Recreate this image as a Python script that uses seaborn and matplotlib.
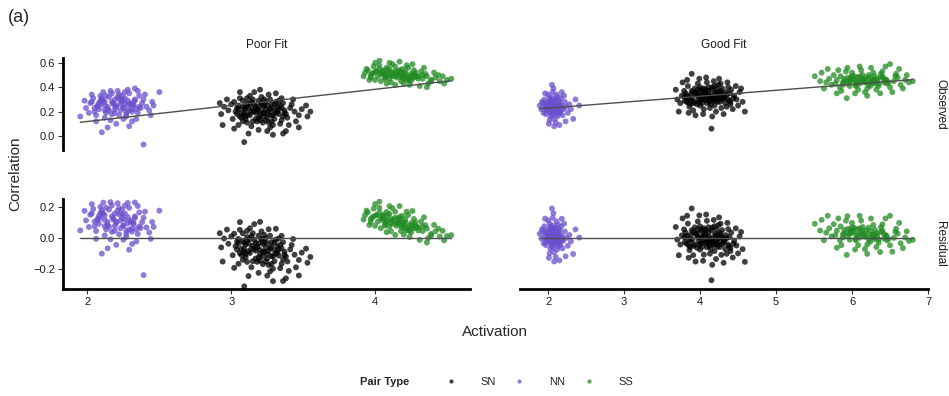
import numpy as np
import pandas as pd
import matplotlib
matplotlib.use("Agg")
import matplotlib.pyplot as plt
from matplotlib.lines import Line2D
import seaborn as sns

# ---------------------------------------------------------------------------
# Observed pair correlations against activation, for two model fits
# ---------------------------------------------------------------------------
fits = ["Poor Fit", "Good Fit"]
pair_types = ["SN", "NN", "SS"]
measures = ["Observed", "Residual"]

# model prediction line (intercept, slope) for each fit
fit_intercept = {"Poor Fit": -0.145, "Good Fit": 0.131}
fit_slope = {"Poor Fit": 0.132, "Good Fit": 0.0488}

# ---- Poor Fit ----
poor_nn_x = [2.20, 2.12, 2.31, 2.05, 2.26, 2.17, 2.38, 2.09, 2.23, 2.29,
             2.14, 2.02, 2.35, 2.19, 2.27, 2.08, 2.41, 2.24, 2.11, 2.33,
             2.16, 2.21, 2.04, 2.30, 2.25, 2.13, 2.36, 2.18, 2.07, 2.43,
             2.22, 1.99, 2.28, 2.15, 2.34, 2.10, 2.26, 2.19, 2.39, 2.06,
             2.24, 2.32, 2.12, 2.01, 2.45, 2.17, 2.27, 2.09, 2.37, 2.22,
             1.95, 2.50, 2.39, 2.10, 2.14, 2.28, 2.33, 2.03, 2.44, 2.20,
             2.31, 2.16, 2.06, 2.40, 2.25, 1.98, 2.35, 2.12, 2.29, 2.46,
             2.18, 2.25, 2.11, 2.30, 2.07, 2.21, 2.15, 2.28, 2.03, 2.34,
             2.19, 2.24, 2.12, 2.31, 2.09, 2.26, 2.14, 2.22, 2.36, 2.10,
             2.17, 2.29, 2.05, 2.23, 2.33, 2.13, 2.20, 2.27, 2.08, 2.32]
poor_nn_obs = [0.25, 0.28, 0.22, 0.20, 0.31, 0.18, 0.27, 0.33, 0.21, 0.35,
               0.24, 0.27, 0.19, 0.30, 0.16, 0.22, 0.24, 0.28, 0.36, 0.30,
               0.13, 0.37, 0.31, 0.26, 0.23, 0.19, 0.33, 0.27, 0.25, 0.21,
               0.17, 0.23, 0.29, 0.32, 0.14, 0.29, 0.36, 0.22, 0.30, 0.17,
               0.33, 0.25, 0.21, 0.19, 0.28, 0.35, 0.20, 0.26, 0.23, 0.30,
               0.16, 0.36, -0.07, 0.03, 0.07, 0.38, 0.39, 0.34, 0.17, 0.10,
               0.12, 0.37, 0.12, 0.34, 0.14, 0.29, 0.37, 0.15, 0.08, 0.25,
               0.26, 0.23, 0.29, 0.27, 0.24, 0.32, 0.21, 0.25, 0.28, 0.22,
               0.19, 0.30, 0.25, 0.20, 0.29, 0.27, 0.22, 0.34, 0.24, 0.31,
               0.28, 0.21, 0.23, 0.26, 0.29, 0.33, 0.24, 0.18, 0.27, 0.26]

poor_sn_x = [3.20, 3.12, 3.28, 3.05, 3.33, 3.17, 3.24, 3.09, 3.38, 3.15,
             3.22, 2.98, 3.30, 3.19, 3.07, 3.26, 3.41, 3.13, 3.35, 3.02,
             3.21, 3.10, 3.29, 3.16, 3.44, 3.04, 3.25, 3.18, 3.36, 3.08,
             3.23, 3.31, 3.14, 2.95, 3.27, 3.11, 3.39, 3.20, 3.06, 3.32,
             3.19, 3.47, 3.01, 3.24, 3.13, 3.34, 3.09, 3.28, 3.17, 3.42,
             2.93, 3.22, 3.37, 3.05, 3.15, 3.30, 3.26, 3.10, 3.21, 3.45,
             3.00, 3.33, 3.18, 3.08, 3.27, 3.14, 3.40, 3.23, 2.97, 3.35,
             3.09, 3.20, 3.53, 3.52, 2.94, 3.29, 3.47, 3.12, 3.38, 3.02,
             3.49, 3.16, 2.92, 3.31, 3.25, 3.43, 3.06, 3.55, 3.11, 3.36,
             3.18, 3.25, 3.11, 3.32, 3.06, 3.21, 3.15, 3.28, 3.03, 3.36,
             3.19, 3.24, 3.12, 3.30, 3.08, 3.26, 3.14, 3.22, 3.34, 3.10,
             3.17, 3.29, 3.05, 3.23, 3.37, 3.13, 3.20, 3.27, 3.09, 3.31,
             3.16, 3.25, 3.04, 3.33, 3.19, 3.11, 3.28, 3.22, 3.07, 3.35]
poor_sn_obs = [0.20, 0.23, 0.17, 0.25, 0.22, 0.14, 0.28, 0.19, 0.18, 0.30,
               0.11, 0.21, 0.26, 0.24, 0.15, 0.20, 0.23, 0.17, 0.13, 0.28,
               0.32, 0.22, 0.09, 0.26, 0.20, 0.18, 0.15, 0.21, 0.27, 0.12,
               0.25, 0.19, 0.08, 0.24, 0.30, 0.27, 0.15, 0.17, 0.31, 0.24,
               0.05, 0.17, 0.14, 0.22, 0.33, 0.10, 0.23, 0.26, 0.19, 0.26,
               0.18, 0.16, 0.21, 0.09, 0.22, 0.14, 0.34, 0.16, 0.27, 0.12,
               0.26, 0.29, 0.12, 0.29, 0.07, 0.20, 0.09, 0.19, 0.30, 0.31,
               -0.05, 0.38, 0.16, 0.25, 0.09, 0.01, 0.07, 0.02, 0.04, 0.06,
               0.22, 0.36, 0.27, 0.35, 0.04, 0.30, 0.36, 0.20, 0.11, 0.02,
               0.22, 0.18, 0.25, 0.20, 0.16, 0.27, 0.12, 0.23, 0.20, 0.16,
               0.29, 0.13, 0.18, 0.21, 0.24, 0.11, 0.28, 0.19, 0.25, 0.14,
               0.24, 0.17, 0.22, 0.30, 0.19, 0.26, 0.13, 0.22, 0.17, 0.28,
               0.20, 0.25, 0.23, 0.18, 0.15, 0.31, 0.12, 0.24, 0.19, 0.23]

poor_ss_x = [4.15, 4.05, 4.22, 3.98, 4.28, 4.10, 4.19, 4.02, 4.33, 4.12,
             4.25, 3.95, 4.08, 4.30, 4.17, 4.00, 4.21, 4.36, 4.06, 4.14,
             3.93, 4.26, 4.11, 4.03, 4.32, 4.18, 4.09, 4.39, 3.97, 4.23,
             4.13, 4.04, 4.27, 4.16, 3.99, 4.35, 4.07, 4.20, 4.42, 4.01,
             4.24, 4.12, 3.92, 4.29, 4.18, 4.45, 4.06, 4.37, 4.22, 3.96,
             4.03, 4.39, 4.53, 4.48, 4.31, 4.14, 4.44, 4.10, 3.94, 4.26,
             4.41, 4.34, 4.20, 4.08, 4.50, 4.00, 4.17, 4.47, 4.36, 4.24,
             4.12, 4.19, 4.05, 4.26, 4.01, 4.16, 4.09, 4.23, 3.97, 4.30,
             4.14, 4.21, 4.07, 4.28, 4.03, 4.18, 4.11, 4.25, 4.33, 4.06,
             4.15, 4.22, 3.99, 4.10, 4.27, 4.04, 4.17, 4.24, 4.08, 4.20]
poor_ss_obs = [0.50, 0.53, 0.48, 0.51, 0.52, 0.47, 0.55, 0.49, 0.50, 0.52,
               0.45, 0.54, 0.56, 0.47, 0.51, 0.46, 0.53, 0.49, 0.50, 0.57,
               0.52, 0.50, 0.44, 0.58, 0.53, 0.48, 0.51, 0.46, 0.48, 0.56,
               0.49, 0.45, 0.54, 0.53, 0.57, 0.51, 0.47, 0.50, 0.48, 0.53,
               0.42, 0.59, 0.49, 0.49, 0.45, 0.45, 0.54, 0.43, 0.58, 0.46,
               0.62, 0.45, 0.47, 0.43, 0.41, 0.42, 0.50, 0.60, 0.55, 0.59,
               0.52, 0.56, 0.43, 0.43, 0.46, 0.60, 0.61, 0.49, 0.40, 0.46,
               0.51, 0.49, 0.52, 0.48, 0.53, 0.50, 0.54, 0.47, 0.50, 0.49,
               0.53, 0.51, 0.48, 0.50, 0.55, 0.52, 0.49, 0.51, 0.47, 0.52,
               0.48, 0.46, 0.52, 0.55, 0.48, 0.51, 0.54, 0.49, 0.50, 0.47]

# ---- Good Fit ----
good_nn_x = [2.07, 2.01, 2.12, 1.96, 2.15, 2.04, 2.10, 1.99, 2.18, 2.06,
             2.02, 2.13, 1.93, 2.09, 2.20, 2.05, 1.97, 2.11, 2.16, 2.03,
             2.08, 1.95, 2.14, 2.00, 2.22, 2.06, 2.12, 1.98, 2.17, 2.04,
             2.09, 1.91, 2.19, 2.02, 2.13, 2.07, 2.00, 2.24, 1.94, 2.10,
             2.05, 2.28, 2.36, 2.33, 2.23, 2.15, 2.01, 2.08, 1.89, 2.26,
             2.18, 1.96, 2.11, 2.03, 2.21, 1.92, 2.14, 2.06, 2.30, 2.41,
             2.06, 2.10, 2.01, 2.14, 1.98, 2.08, 2.04, 2.12, 1.96, 2.17,
             2.05, 2.09, 2.02, 2.15, 2.00, 2.11, 2.07, 2.13, 1.99, 2.06,
             2.03, 2.16, 2.09, 1.97, 2.12, 2.05, 2.19, 2.01, 2.08, 2.14]
good_nn_obs = [0.23, 0.26, 0.21, 0.24, 0.28, 0.19, 0.30, 0.22, 0.25, 0.17,
               0.32, 0.24, 0.27, 0.20, 0.22, 0.27, 0.18, 0.34, 0.19, 0.24,
               0.14, 0.30, 0.26, 0.21, 0.28, 0.36, 0.16, 0.26, 0.31, 0.29,
               0.25, 0.22, 0.17, 0.13, 0.32, 0.39, 0.34, 0.24, 0.19, 0.11,
               0.42, 0.26, 0.30, 0.14, 0.12, 0.09, 0.10, 0.08, 0.25, 0.19,
               0.36, 0.35, 0.27, 0.16, 0.33, 0.28, 0.21, 0.31, 0.22, 0.25,
               0.24, 0.21, 0.27, 0.25, 0.22, 0.29, 0.20, 0.23, 0.26, 0.22,
               0.18, 0.26, 0.24, 0.20, 0.28, 0.23, 0.27, 0.18, 0.25, 0.21,
               0.30, 0.24, 0.29, 0.20, 0.27, 0.25, 0.23, 0.22, 0.19, 0.29]

good_sn_x = [4.10, 3.95, 4.22, 3.82, 4.30, 4.03, 4.15, 3.90, 4.38, 4.07,
             3.76, 4.19, 4.00, 4.27, 3.86, 4.12, 4.45, 3.98, 4.24, 3.79,
             4.05, 4.33, 3.93, 4.17, 4.41, 3.70, 4.09, 4.26, 3.88, 4.14,
             4.02, 4.35, 3.84, 4.20, 3.96, 4.48, 4.11, 3.74, 4.29, 4.06,
             3.91, 4.18, 4.39, 4.01, 3.80, 4.23, 4.13, 4.52, 3.97, 4.32,
             3.89, 4.59, 4.15, 4.08, 3.72, 4.43, 4.04, 4.25, 3.68, 4.56,
             4.36, 3.85, 4.21, 3.99, 4.47, 3.77, 4.31, 4.16, 3.94, 4.54,
             4.40, 3.83, 4.28, 4.00, 4.12, 4.19, 3.92, 4.34, 4.05, 3.87,
             4.23, 4.09, 3.81, 4.44, 4.17, 3.97, 4.27, 4.03, 4.37, 4.50,
             4.08, 3.98, 4.20, 3.86, 4.26, 4.02, 4.14, 3.92, 4.32, 4.11,
             3.80, 4.17, 4.04, 4.29, 3.89, 4.22, 4.40, 3.95, 4.13, 3.83,
             4.07, 4.35, 3.99, 4.19, 4.28, 3.87, 4.10, 4.24, 3.94, 4.16,
             4.01, 4.31, 3.85, 4.21, 4.06, 4.37, 3.91, 4.12, 4.25, 3.97]
good_sn_obs = [0.32, 0.35, 0.30, 0.28, 0.34, 0.27, 0.38, 0.31, 0.29, 0.36,
               0.33, 0.25, 0.40, 0.37, 0.24, 0.29, 0.33, 0.30, 0.42, 0.37,
               0.22, 0.27, 0.39, 0.33, 0.38, 0.30, 0.44, 0.31, 0.34, 0.26,
               0.33, 0.24, 0.41, 0.35, 0.26, 0.30, 0.40, 0.27, 0.39, 0.30,
               0.21, 0.45, 0.35, 0.37, 0.32, 0.28, 0.23, 0.36, 0.43, 0.32,
               0.51, 0.20, 0.06, 0.48, 0.20, 0.22, 0.18, 0.47, 0.38, 0.28,
               0.44, 0.19, 0.20, 0.47, 0.41, 0.44, 0.18, 0.16, 0.17, 0.39,
               0.26, 0.46, 0.23, 0.25, 0.34, 0.41, 0.28, 0.36, 0.39, 0.26,
               0.33, 0.27, 0.35, 0.31, 0.29, 0.33, 0.43, 0.31, 0.40, 0.25,
               0.30, 0.33, 0.36, 0.31, 0.28, 0.38, 0.32, 0.27, 0.33, 0.37,
               0.29, 0.31, 0.34, 0.30, 0.37, 0.39, 0.28, 0.35, 0.31, 0.33,
               0.38, 0.34, 0.28, 0.29, 0.35, 0.30, 0.33, 0.36, 0.35, 0.40,
               0.29, 0.31, 0.27, 0.32, 0.35, 0.30, 0.36, 0.28, 0.34, 0.38]

good_ss_x = [6.15, 5.95, 6.30, 5.80, 6.42, 6.05, 6.22, 5.88, 6.55, 6.10,
             5.70, 6.35, 6.00, 6.27, 5.84, 6.18, 6.60, 5.98, 6.38, 5.76,
             6.08, 6.46, 5.92, 6.24, 6.64, 5.66, 6.12, 6.33, 5.90, 6.20,
             6.02, 6.50, 5.82, 6.28, 5.97, 6.70, 6.14, 5.73, 6.40, 6.06,
             5.86, 6.25, 6.57, 6.00, 5.78, 6.32, 6.17, 6.75, 5.94, 6.45,
             5.51, 6.50, 5.93, 6.62, 5.60, 6.80, 6.37, 5.58, 6.10, 6.53,
             5.68, 6.20, 5.80, 6.67, 6.44, 6.04, 6.58, 5.63, 6.30, 6.72,
             6.12, 6.25, 5.98, 6.35, 5.90, 6.18, 6.05, 6.30, 5.85, 6.42,
             6.08, 6.22, 6.00, 6.38, 5.94, 6.27, 6.14, 6.48, 5.88, 6.20,
             6.03, 6.33, 6.10, 6.45, 5.96, 6.24, 6.16, 6.40, 6.07, 6.29]
good_ss_obs = [0.45, 0.48, 0.43, 0.46, 0.47, 0.42, 0.50, 0.44, 0.45, 0.49,
               0.47, 0.41, 0.52, 0.46, 0.40, 0.44, 0.48, 0.45, 0.51, 0.50,
               0.38, 0.43, 0.53, 0.48, 0.42, 0.44, 0.54, 0.45, 0.47, 0.39,
               0.46, 0.40, 0.54, 0.52, 0.41, 0.46, 0.50, 0.42, 0.53, 0.44,
               0.37, 0.56, 0.49, 0.49, 0.43, 0.38, 0.36, 0.44, 0.56, 0.46,
               0.49, 0.59, 0.31, 0.55, 0.52, 0.45, 0.35, 0.45, 0.57, 0.36,
               0.55, 0.33, 0.35, 0.39, 0.57, 0.35, 0.51, 0.39, 0.49, 0.50,
               0.46, 0.44, 0.47, 0.43, 0.45, 0.48, 0.41, 0.46, 0.49, 0.44,
               0.45, 0.42, 0.47, 0.48, 0.43, 0.45, 0.47, 0.44, 0.42, 0.46,
               0.49, 0.47, 0.43, 0.46, 0.45, 0.41, 0.44, 0.49, 0.48, 0.44]

series = {
    ("Poor Fit", "SN"): (poor_sn_x, poor_sn_obs),
    ("Poor Fit", "NN"): (poor_nn_x, poor_nn_obs),
    ("Poor Fit", "SS"): (poor_ss_x, poor_ss_obs),
    ("Good Fit", "SN"): (good_sn_x, good_sn_obs),
    ("Good Fit", "NN"): (good_nn_x, good_nn_obs),
    ("Good Fit", "SS"): (good_ss_x, good_ss_obs),
}

rows = []
for (fit, pair), (xs, obs) in series.items():
    for x, y in zip(xs, obs):
        pred = fit_intercept[fit] + fit_slope[fit] * x
        rows.append({"Fit": fit, "Pair Type": pair, "Activation": x,
                     "Observed": y, "Residual": y - pred})
wide = pd.DataFrame(rows)
df = wide.melt(id_vars=["Fit", "Pair Type", "Activation"],
               value_vars=measures, var_name="Measure", value_name="Correlation")

palette = {"SN": "#000000", "NN": "#6a50cd", "SS": "#228b22"}

# ---------------------------------------------------------------------------
# Figure
# ---------------------------------------------------------------------------
sns.set_theme(style="white")
plt.rcParams["font.family"] = ["Liberation Sans", "DejaVu Sans"]

W, H = 949, 396
fig = plt.figure(figsize=(W / 100, H / 100), dpi=100)


def frac_rect(x0, y0, x1, y1):
    return [x0 / W, 1 - y1 / H, (x1 - x0) / W, (y1 - y0) / H]


col_px = {"Poor Fit": (63, 470), "Good Fit": (520, 928)}
row_px = {"Observed": (58, 150), "Residual": (199, 289)}
xlims = {"Poor Fit": (1.83, 4.66), "Good Fit": (1.63, 7.0)}
xticks = {"Poor Fit": [2, 3, 4], "Good Fit": [2, 3, 4, 5, 6, 7]}
ylims = {"Observed": (-0.115, 0.64), "Residual": (-0.33, 0.25)}
yticks = {"Observed": [0.0, 0.2, 0.4, 0.6], "Residual": [-0.2, 0.0, 0.2]}

tick_fs = 8
for ci, fit in enumerate(fits):
    for ri, meas in enumerate(measures):
        (x0, x1), (y0, y1) = col_px[fit], row_px[meas]
        ax = fig.add_axes(frac_rect(x0, y0, x1, y1))
        sub = df[(df["Fit"] == fit) & (df["Measure"] == meas)]
        sns.scatterplot(data=sub, x="Activation", y="Correlation",
                        hue="Pair Type", hue_order=pair_types, palette=palette,
                        s=18, alpha=0.75, edgecolor="none", linewidth=0,
                        legend=False, ax=ax, zorder=2)
        # prediction line over the observed range of activation
        xr = np.array([sub["Activation"].min(), sub["Activation"].max()])
        if meas == "Observed":
            yr = fit_intercept[fit] + fit_slope[fit] * xr
        else:
            yr = np.zeros_like(xr)
        sns.lineplot(x=xr, y=yr, color="#4d4d4d", linewidth=1.0, ax=ax,
                     zorder=3)

        ax.set_xlim(*xlims[fit])
        ax.set_ylim(*ylims[meas])
        ax.set_xlabel("")
        ax.set_ylabel("")
        ax.set_facecolor("none")
        for side in ["top", "right", "left", "bottom"]:
            ax.spines[side].set_visible(False)

        if ci == 0:
            ax.spines["left"].set_visible(True)
            ax.spines["left"].set_linewidth(2.0)
            ax.spines["left"].set_color("black")
            ax.set_yticks(yticks[meas])
            ax.set_yticklabels([f"{v:.1f}".replace("-", "\u2212")
                                for v in yticks[meas]])
            ax.tick_params(axis="y", left=True, length=3.5, width=0.8,
                           color="#333333", labelsize=tick_fs, pad=2,
                           labelcolor="#1a1a1a")
        else:
            ax.set_yticks([])

        if ri == 1:
            ax.spines["bottom"].set_visible(True)
            ax.spines["bottom"].set_linewidth(2.0)
            ax.spines["bottom"].set_color("black")
            ax.set_xticks(xticks[fit])
            ax.set_xticklabels([str(v) for v in xticks[fit]])
            ax.tick_params(axis="x", bottom=True, length=3.5, width=0.8,
                           color="#333333", labelsize=tick_fs, pad=2,
                           labelcolor="#1a1a1a")
        else:
            ax.set_xticks([])

# facet strips
for fit in fits:
    x0, x1 = col_px[fit]
    fig.text((x0 + x1) / 2 / W, 1 - 45 / H, fit, ha="center", va="center",
             fontsize=8.5, color="#1a1a1a")
for meas in measures:
    y0, y1 = row_px[meas]
    fig.text(940 / W, 1 - (y0 + y1) / 2 / H, meas, ha="center", va="center",
             rotation=270, fontsize=8.5, color="#1a1a1a")

# axis titles and panel tag
fig.text(495 / W, 1 - 332 / H, "Activation", ha="center", va="center",
         fontsize=11)
fig.text(15 / W, 1 - 174 / H, "Correlation", ha="center", va="center",
         rotation=90, fontsize=11)
fig.text(8 / W, 1 - 18 / H, "(a)", ha="left", va="center", fontsize=13)

# legend
fig.text(385 / W, 1 - 382 / H, "Pair Type", ha="center", va="center",
         fontsize=8, fontweight="bold")
handles = [Line2D([0], [0], marker="o", linestyle="none", markersize=3,
                  markerfacecolor=palette[p], markeredgewidth=0, alpha=0.75)
           for p in pair_types]
fig.legend(handles, pair_types, loc="center left",
           bbox_to_anchor=(445 / W, 1 - 382 / H), ncol=3, frameon=False,
           fontsize=8, handlelength=1.0, handletextpad=2.2,
           columnspacing=1.6, borderaxespad=0, borderpad=0)

fig.savefig("out.png", dpi=100)
